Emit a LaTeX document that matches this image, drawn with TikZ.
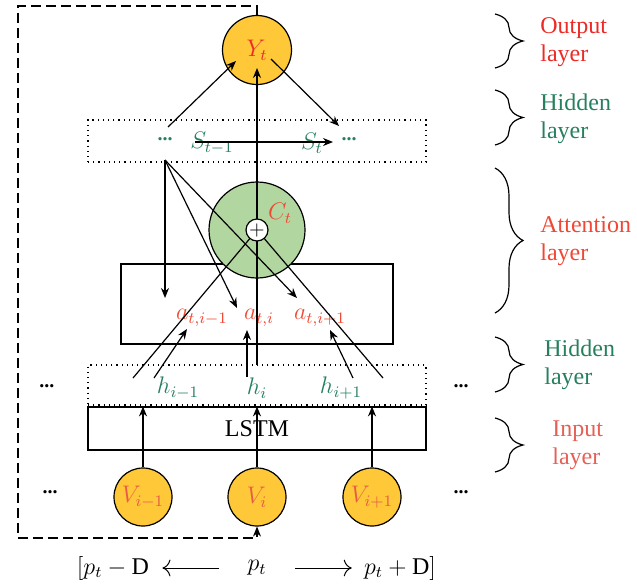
\documentclass[tikz,border=0pt]{standalone}
\usepackage{fontspec}
\setmainfont{Liberation Serif}
\usetikzlibrary{arrows.meta, decorations.pathreplacing}

\definecolor{ycol}{RGB}{254,200,56}
\definecolor{gfill}{RGB}{178,214,160}
\definecolor{redtxt}{RGB}{236,42,38}
\definecolor{attred}{RGB}{240,72,52}
\definecolor{vred}{RGB}{232,92,70}
\definecolor{inred}{RGB}{230,96,86}
\definecolor{grtxt}{RGB}{38,128,94}

\begin{document}
\begin{tikzpicture}[x=0.5pt, y=-0.5pt,
		ycirc/.style={draw, circle, fill=ycol, inner sep=0pt, line width=0.6pt},
		gcirc/.style={draw, circle, fill=gfill, inner sep=0pt, minimum size=48pt, line width=0.6pt},
		plusnode/.style={draw, circle, fill=white, inner sep=0pt, minimum size=11pt, line width=0.6pt},
		layerbox/.style={draw, rectangle, inner sep=0pt, line width=0.6pt},
		dotbox/.style={draw, dotted, rectangle, inner sep=0pt, line width=0.6pt},
		arrow/.style={-{Stealth[length=5pt, width=4pt]}, line width=0.6pt},
		plain/.style={line width=0.6pt},
		layerbrace/.style={decorate, decoration={brace, amplitude=14pt}, line width=0.6pt},
		layertxt/.style={anchor=west, align=left, inner xsep=0pt, font=\large}
		]
		\useasboundingbox (0,0) rectangle (637,584);
		
		% Output layer
		\node[ycirc, minimum size=34.5pt] (Y) at (257,50) {\large$\color{redtxt}Y_t$};
		
		% Hidden layer (top)
		\node[dotbox, minimum width=169pt, minimum height=21pt] (hidTop) at (257,141) {};
		\node[text=grtxt] (dotsA) at (165,139) {\textbf{...}};
		\node[text=grtxt, font=\large] (Sprev) at (212,143) {$S_{t-1}$};
		\node[text=grtxt, font=\large] (Scur) at (312,143) {$S_t$};
		\node[text=grtxt] (dotsB) at (349,139) {\textbf{...}};
		
		% Attention layer
		\node[layerbox, minimum width=136pt, minimum height=40pt] (att) at (257,304) {};
		\node[gcirc] (C) at (257,230) {};
		\node[text=attred, font=\large] (Clab) at (280,213) {$C_t$};
		\node[text=attred, font=\large] (a1) at (202,318) {$a_{t,i-1}$};
		\node[text=attred, font=\large] (a2) at (259,318) {$a_{t,i}$};
		\node[text=attred, font=\large] (a3) at (320,318) {$a_{t,i+1}$};
		
		% Hidden layer (bottom) and LSTM
		\node[dotbox, minimum width=169pt, minimum height=20pt] (hidBot) at (257,385) {};
		\node[layerbox, minimum width=169pt, minimum height=21.5pt, font=\large] (lstm) at (257,428.5) {LSTM};
		\node[text=grtxt, font=\large] (h1) at (178,388) {$h_{i-1}$};
		\node[text=grtxt, font=\large] (h2) at (257,388) {$h_i$};
		\node[text=grtxt, font=\large] (h3) at (341,388) {$h_{i+1}$};
		\node (dotsC) at (47,386) {\textbf{...}};
		\node (dotsD) at (461,386) {\textbf{...}};
		
		% Input layer
		\node[ycirc, minimum size=29pt] (V1) at (143,497) {\large$\color{vred}V_{i-1}$};
		\node[ycirc, minimum size=29pt] (V2) at (257,497) {\large$\color{vred}V_i$};
		\node[ycirc, minimum size=29pt] (V3) at (372,497) {\large$\color{vred}V_{i+1}$};
		\node (dotsE) at (50,492) {\textbf{...}};
		\node (dotsF) at (461,492) {\textbf{...}};
		
		% window
		\node[font=\large, inner sep=0pt] (lo) at (113,568) {$[p_t - \mathrm{D}$};
		\node[font=\large, inner sep=0pt] (pt) at (257,568) {$p_t$};
		\node[font=\large, inner sep=0pt] (hi) at (400,568) {$p_t + \mathrm{D}]$};
		
		% points
		\coordinate (loopTR) at (257,6);
		\coordinate (loopTL) at (18,6);
		\coordinate (loopBL) at (18,538);
		\coordinate (loopBR) at (257,538);
		\coordinate (yIn1) at (236,61);
		\coordinate (yIn2) at (257,68);
		\coordinate (yOut) at (271,59);
		\coordinate (sSrc) at (168,127);
		\coordinate (sDst) at (339,126);
		\coordinate (sArrEnd) at (333,142);
		\coordinate (sArrBeg) at (195,142);
		\coordinate (attSrc) at (165,160);
		\coordinate (attT1) at (165,298);
		\coordinate (attT2) at (237,308);
		\coordinate (attT3) at (297,298);
		\coordinate (hTop) at (257,365);
		\coordinate (hL) at (133,378);
		\coordinate (hR) at (383,378);
		\coordinate (hA1) at (154,378);
		\coordinate (hA2) at (247,377);
		\coordinate (hA3) at (353,378);
		\coordinate (aT1) at (187,329);
		\coordinate (aT2) at (247,330);
		\coordinate (aT3) at (330,330);
		
		% connectors
		\draw[arrow] (sArrBeg) -- (sArrEnd);
		\draw[arrow] (sSrc) -- (yIn1);
		\draw[arrow] (yOut) -- (sDst);
		\draw[arrow] (hTop) -- (yIn2);
		\draw[arrow] (attSrc) -- (attT1);
		\draw[arrow] (attSrc) -- (attT2);
		\draw[arrow] (attSrc) -- (attT3);
		\draw[plain] (hL) -- (C.center);
		\draw[plain] (hR) -- (C.center);
		\draw[arrow] (hA1) -- (aT1);
		\draw[arrow] (hA2) -- (aT2);
		\draw[arrow] (hA3) -- (aT3);
		\node[plusnode] (plus) at (C.center) {$+$};
		\draw[arrow] (V1) -- (V1 |- lstm.north);
		\draw[arrow] (V2) -- (V2 |- lstm.north);
		\draw[arrow] (V3) -- (V3 |- lstm.north);
		\draw[arrow, dash pattern=on 5pt off 2.5pt] (Y.north) -- (loopTR) -- (loopTL) -- (loopBL) -- (loopBR) -- (V2.south);
		\draw[-{To[length=4pt]}, line width=0.5pt, shorten <=14pt, shorten >=6.5pt] (pt.west) -- (lo.east);
		\draw[-{To[length=4pt]}, line width=0.5pt, shorten <=14pt, shorten >=6pt] (pt.east) -- (hi.west);
		
		% layer braces
		\draw[layerbrace] (495,14) -- (495,68);
		\draw[layerbrace] (495,90) -- (495,145);
		\draw[layerbrace] (495,168) -- (495,313);
		\draw[layerbrace] (495,337) -- (495,392);
		\draw[layerbrace] (495,418) -- (495,472);
		\node[layertxt, text=redtxt] (outLab) at (540,42) {Output\\layer};
		\node[layertxt, text=grtxt] (hidLabA) at (540,119) {Hidden\\layer};
		\node[layertxt, text=attred] (attLab) at (540,241) {Attention\\layer};
		\node[layertxt, text=grtxt] (hidLabB) at (544,365) {Hidden\\layer};
		\node[layertxt, text=inred] (inLab) at (552,445) {Input\\layer};
	\end{tikzpicture}
\end{document}
